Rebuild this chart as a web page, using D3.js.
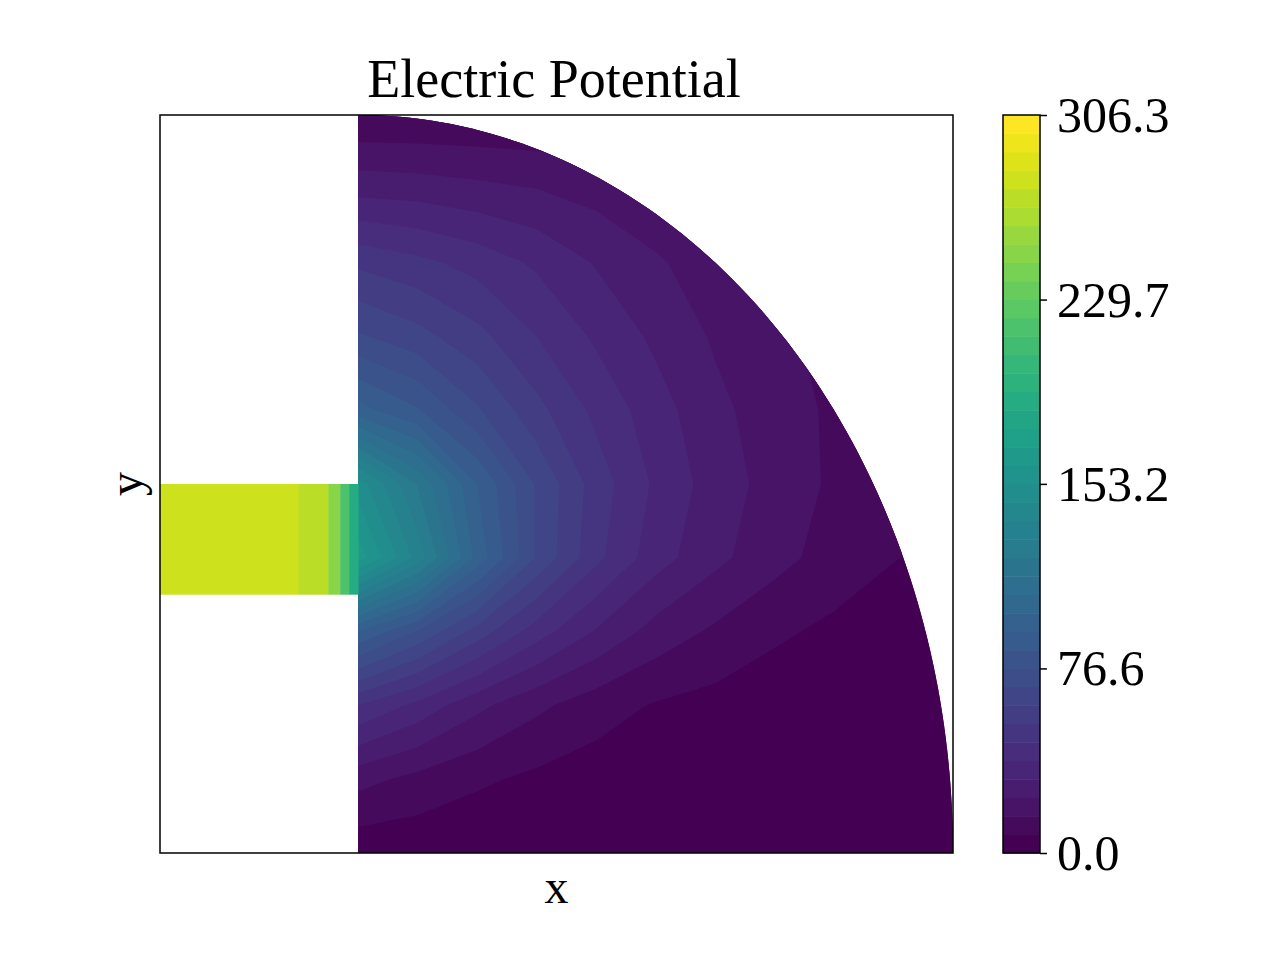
<!DOCTYPE html>
<html><head><meta charset="utf-8">
<script src="https://cdn.jsdelivr.net/npm/d3@7"></script>
<style>body{margin:0;background:#fff}text{font-family:"Liberation Serif",serif;fill:#000}</style>
</head><body>
<svg id="chart" width="1280" height="960"></svg>
<script>
// field values on an 11x11 grid: u (0..1, right) and v (0..1, up) in the quarter ellipse
var field = [
    [2, 2, 1, 1, 1, 0, 0, 0, 0, 0, 0],
    [18, 13, 9, 6, 4, 3, 2, 1, 0, 0, 0],
    [46, 36, 25, 17, 11, 7, 5, 3, 2, 1, 0],
    [92, 76, 58, 42, 30, 20, 14, 9, 6, 3, 1],
    [165, 135, 97, 68, 48, 34, 25, 18, 12, 8, 5],
    [150, 122, 92, 68, 50, 37, 27, 20, 14, 10, 7],
    [95, 85, 70, 56, 44, 34, 25, 19, 14, 10, 7],
    [70, 64, 56, 46, 37, 29, 22, 17, 13, 9, 6],
    [52, 48, 43, 37, 30, 24, 19, 15, 11, 8, 5],
    [28, 27, 25, 23, 20, 17, 14, 11, 9, 6, 4],
    [8, 8, 8, 8, 8, 8, 7, 6, 4, 3, 2]
];
// electrode strip (u < 0), v from 0.35 to 0.5
var electrodeU = [-0.333, -0.1, -0.05, -0.03, -0.015, 0];
var electrodeVal = [282, 275, 250, 215, 185];
var electrodeV = [0.35, 0.5];
var vmax = 306.3;
var nLevels = 40;
var cbTicks = [0.0, 76.6, 153.2, 229.7, 306.3];

var svg = d3.select("#chart");
var pL = 160, pR = 953, pT = 115, pB = 853;
var x = d3.scaleLinear().domain([-0.333, 1]).range([pL, pR]);
var y = d3.scaleLinear().domain([0, 1]).range([pB, pT]);

var thresholds = d3.range(nLevels).map(function (i) { return i * vmax / nLevels; });
var color = function (v) {
    var k = Math.min(nLevels - 1, Math.max(0, Math.floor(v / (vmax / nLevels))));
    return d3.interpolateViridis(k / (nLevels - 1));
};

// clip: quarter ellipse
var ell = d3.range(0, 91).map(function (a) {
    var t = a * Math.PI / 180;
    return [x(Math.cos(t)), y(Math.sin(t))];
});
ell.push([x(0), y(0)]);
svg.append("clipPath").attr("id", "ell").append("path")
    .attr("d", d3.line()(ell) + "Z");

var flat = [];
field.forEach(function (row) { row.forEach(function (v) { flat.push(v); }); });
var contours = d3.contours().size([11, 11]).thresholds(thresholds)(flat);
var proj = d3.geoTransform({
    point: function (px, py) {
        this.stream.point(x((px - 0.5) / 10), y((py - 0.5) / 10));
    }
});
var g = svg.append("g").attr("clip-path", "url(#ell)");
g.append("rect").attr("x", x(0)).attr("y", pT).attr("width", pR - x(0)).attr("height", pB - pT)
    .attr("fill", color(0));
g.selectAll("path.c").data(contours).join("path")
    .attr("d", d3.geoPath(proj))
    .attr("fill", function (d) { return color(d.value + 0.01); });

// electrode
svg.selectAll("rect.el").data(electrodeVal).join("rect")
    .attr("x", function (d, i) { return x(electrodeU[i]); })
    .attr("width", function (d, i) { return x(electrodeU[i + 1]) - x(electrodeU[i]) + 0.5; })
    .attr("y", y(electrodeV[1]))
    .attr("height", y(electrodeV[0]) - y(electrodeV[1]))
    .attr("fill", function (d) { return color(d); });

svg.append("rect").attr("x", pL).attr("y", pT).attr("width", pR - pL).attr("height", pB - pT)
    .attr("fill", "none").attr("stroke", "#000").attr("stroke-width", 1.5);

svg.append("text").attr("x", 554).attr("y", 97).attr("text-anchor", "middle")
    .attr("font-size", 54).text("Electric Potential");
svg.append("text").attr("x", (pL + pR) / 2).attr("y", 903).attr("text-anchor", "middle")
    .attr("font-size", 48).text("x");
svg.append("text").attr("transform", "translate(142," + ((pT + pB) / 2) + ") rotate(-90)")
    .attr("text-anchor", "middle").attr("font-size", 48).text("y");

// colorbar
var cbX = 1003, cbW = 37;
var cb = d3.scaleLinear().domain([0, vmax]).range([pB, pT]);
svg.selectAll("rect.cb").data(thresholds).join("rect")
    .attr("x", cbX).attr("width", cbW)
    .attr("y", function (d) { return cb(d + vmax / nLevels); })
    .attr("height", cb(0) - cb(vmax / nLevels) + 0.5)
    .attr("fill", function (d) { return color(d + 0.01); });
svg.append("rect").attr("x", cbX).attr("y", pT).attr("width", cbW).attr("height", pB - pT)
    .attr("fill", "none").attr("stroke", "#000").attr("stroke-width", 1.5);
var ax = svg.append("g").attr("transform", "translate(" + (cbX + cbW) + ",0)")
    .call(d3.axisRight(cb).tickValues(cbTicks).tickFormat(d3.format(".1f")).tickSize(7).tickPadding(10));
ax.select(".domain").remove();
ax.selectAll("line").attr("stroke", "#000").attr("stroke-width", 1.5);
ax.selectAll("text").attr("font-size", 50).attr("font-family", "Liberation Serif").attr("dy", "0.33em");
</script>
</body></html>
